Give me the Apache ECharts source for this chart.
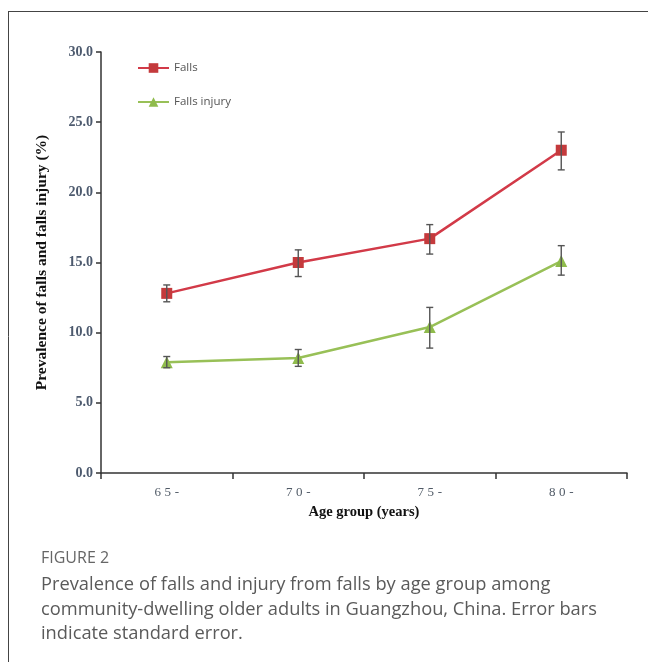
<!DOCTYPE html>
<html>
<head>
<meta charset="utf-8">
<script src="https://cdn.jsdelivr.net/npm/echarts@6/dist/echarts.min.js"></script>
<style>
html,body{margin:0;padding:0;background:#fff;}
#chart{width:648px;height:662px;}
</style>
</head>
<body>
<div id="chart"></div>
<script>
const categories = ['65-', '70-', '75-', '80-'];
const fallsValues = [12.8, 15.0, 16.7, 23.0];
const fallsLow = [12.2, 14.0, 15.6, 21.6];
const fallsHigh = [13.4, 15.9, 17.7, 24.3];
const injuryValues = [7.9, 8.2, 10.4, 15.1];
const injuryLow = [7.5, 7.6, 8.9, 14.1];
const injuryHigh = [8.3, 8.8, 11.8, 16.2];
const yTicks = [0, 5, 10, 15, 20, 25, 30];

const chart = echarts.init(document.getElementById('chart'), null, {renderer: 'canvas'});

function errData(low, high) {
  return categories.map((c, i) => [i, low[i], high[i]]);
}
function errRender(params, api) {
  const x = api.value(0);
  const lo = api.coord([x, api.value(1)]);
  const hi = api.coord([x, api.value(2)]);
  const w = 3.5;
  const st = {stroke: '#555', lineWidth: 1.4};
  return {
    type: 'group',
    children: [
      {type: 'line', shape: {x1: lo[0], y1: lo[1], x2: hi[0], y2: hi[1]}, style: st},
      {type: 'line', shape: {x1: lo[0] - w, y1: lo[1], x2: lo[0] + w, y2: lo[1]}, style: st},
      {type: 'line', shape: {x1: hi[0] - w, y1: hi[1], x2: hi[0] + w, y2: hi[1]}, style: st}
    ]
  };
}

const serif = '"Liberation Serif", "DejaVu Serif", serif';
const sans = '"Open Sans", Lato, sans-serif';

chart.setOption({
  animation: false,
  backgroundColor: '#fff',
  grid: {left: 101, right: 21, top: 52, bottom: 189},
  legend: {
    orient: 'vertical',
    left: 137,
    top: 62,
    padding: 0,
    itemGap: 22,
    itemWidth: 31,
    itemHeight: 12,
    textStyle: {fontFamily: sans, fontSize: 11.5, color: '#555'},
    data: ['Falls', 'Falls injury']
  },
  xAxis: {
    type: 'category',
    data: categories,
    boundaryGap: true,
    axisLine: {lineStyle: {color: '#333', width: 1.5}},
    axisTick: {show: true, length: 6, lineStyle: {color: '#333', width: 1.5}},
    axisLabel: {
      fontFamily: serif, fontSize: 13, color: '#505a66', margin: 13,
      formatter: v => v.split('').join('\u2009\u200a')
    },
    name: 'Age group (years)',
    nameLocation: 'middle',
    nameGap: 32,
    nameTextStyle: {fontFamily: serif, fontSize: 14.5, fontWeight: 'bold', color: '#111'},
    splitLine: {show: false}
  },
  yAxis: {
    type: 'value',
    min: yTicks[0],
    max: yTicks[yTicks.length - 1],
    interval: 5,
    axisLine: {show: true, lineStyle: {color: '#333', width: 1.5}},
    axisTick: {show: true, length: 5, lineStyle: {color: '#333', width: 1.5}},
    axisLabel: {
      fontFamily: serif, fontSize: 14, fontWeight: 'bold', color: '#4d5a6e', margin: 8,
      formatter: v => v.toFixed(1)
    },
    splitLine: {show: false},
    name: 'Prevalence of falls and falls injury (%)',
    nameLocation: 'middle',
    nameGap: 51,
    nameRotate: 90,
    nameTextStyle: {fontFamily: serif, fontSize: 15.5, fontWeight: 'bold', color: '#111'}
  },
  series: [
    {
      name: 'Falls', type: 'line', data: fallsValues,
      symbol: 'rect', symbolSize: 11,
      lineStyle: {color: '#d23a48', width: 2.5},
      itemStyle: {color: '#c43a3c'},
      z: 3
    },
    {
      name: 'Falls injury', type: 'line', data: injuryValues,
      symbol: 'triangle', symbolSize: 12,
      lineStyle: {color: '#98c057', width: 2.5},
      itemStyle: {color: '#8fbb4c'},
      z: 3
    },
    {
      type: 'custom', renderItem: errRender, data: errData(fallsLow, fallsHigh),
      encode: {x: 0, y: [1, 2]}, z: 4, silent: true
    },
    {
      type: 'custom', renderItem: errRender, data: errData(injuryLow, injuryHigh),
      encode: {x: 0, y: [1, 2]}, z: 4, silent: true
    }
  ],
  graphic: [
    {type: 'line', shape: {x1: 8, y1: 11.5, x2: 648, y2: 11.5}, style: {stroke: '#444', lineWidth: 1}},
    {type: 'line', shape: {x1: 8.5, y1: 11, x2: 8.5, y2: 662}, style: {stroke: '#444', lineWidth: 1}},
    {type: 'text', left: 41, top: 550, style: {text: 'FIGURE 2', fontFamily: sans, fontSize: 16, fill: '#666'}},
    {type: 'text', left: 41, top: 573, style: {
      text: 'Prevalence of falls and injury from falls by age group among\ncommunity-dwelling older adults in Guangzhou, China. Error bars\nindicate standard error.',
      fontFamily: sans, fontSize: 18.3, lineHeight: 24.5, fill: '#5a5a5a'}}
  ]
});
</script>
</body>
</html>
